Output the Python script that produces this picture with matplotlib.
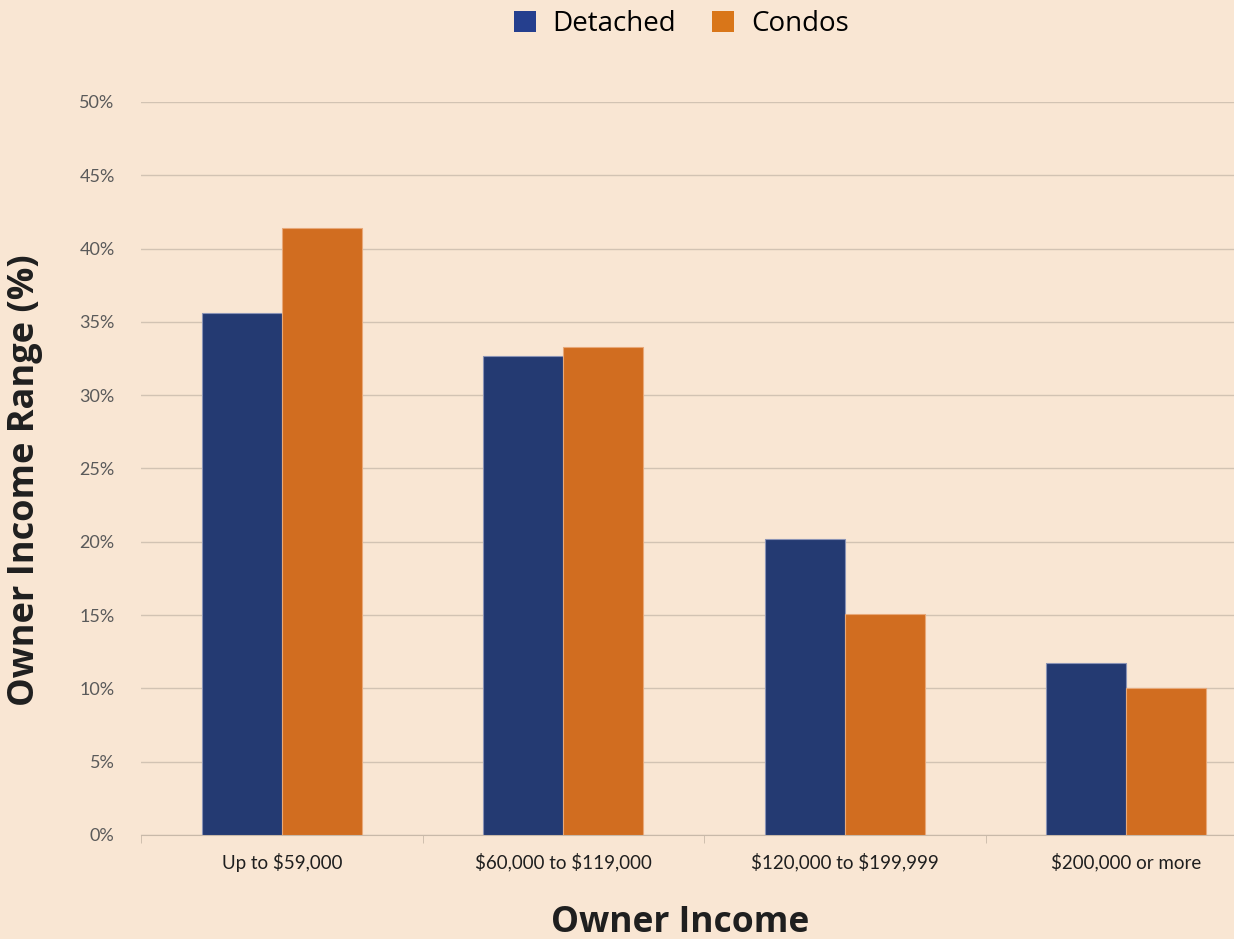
import matplotlib.pyplot as plt
import numpy as np
from matplotlib.patches import Patch

plt.rcParams['text.parse_math'] = False

# Share of owners in each income bracket, by home type
income_ranges = ['Up to $59,000', '$60,000 to $119,000', '$120,000 to $199,999', '$200,000 or more']
detached = [35.6, 32.7, 20.2, 11.7]
condos = [41.4, 33.3, 15.1, 10.0]
y_ticks = [0, 5, 10, 15, 20, 25, 30, 35, 40, 45, 50]

BG = '#F9E6D3'
NAVY = '#243A72'
ORANGE = '#D16D20'


def main():
    fig = plt.figure(figsize=(12.34, 9.39), dpi=100, facecolor=BG)
    # right edge of the plot area runs past the figure, as in the printed chart
    ax = fig.add_axes([0.1143, 0.1108, 0.9125, 0.7806], facecolor=BG)

    x = np.arange(len(income_ranges))
    w = 0.284
    ax.bar(x - w / 2, detached, width=w, color=NAVY, edgecolor='#8A93B5', linewidth=0.8, zorder=3)
    ax.bar(x + w / 2, condos, width=w, color=ORANGE, edgecolor='#E8A878', linewidth=0.8, zorder=3)

    ax.set_xlim(-0.5, len(income_ranges) - 0.5)
    ax.set_ylim(0, 50)
    ax.set_yticks(y_ticks)
    ax.set_yticklabels([f'{t}%' for t in y_ticks])
    ax.yaxis.grid(True, color='#D2C3B3', linewidth=1.0, zorder=0)
    ax.tick_params(axis='y', length=0, pad=19, labelsize=13, labelcolor='#5A5A5A')

    # category labels centred, tick marks on the group boundaries
    ax.set_xticks(x)
    ax.set_xticklabels(income_ranges, fontsize=13.5, color='#1F1F1F', family='Lato')
    ax.tick_params(axis='x', length=0, pad=13)
    ax.set_xticks(np.arange(len(income_ranges) + 1) - 0.5, minor=True)
    ax.tick_params(axis='x', which='minor', length=6, color='#C8B9A9', direction='out')

    for s in ['top', 'right', 'left']:
        ax.spines[s].set_visible(False)
    ax.spines['bottom'].set_color('#C8B9A9')
    for lbl in ax.get_yticklabels():
        lbl.set_family('Lato')

    fig.text(0.551, -0.002, 'Owner Income', ha='center', va='bottom',
             fontsize=25.5, fontweight='bold', family='Open Sans', color='#1F1F1F')
    fig.text(0.0205, 0.489, 'Owner Income Range (%)', ha='center', va='center', rotation=90,
             fontsize=26, fontweight='bold', family='Open Sans', color='#1F1F1F')

    handles = [Patch(facecolor='#253F8E', label='Detached'),
               Patch(facecolor='#D97619', label='Condos')]
    fig.legend(handles=handles, loc='center', bbox_to_anchor=(0.552, 0.974), ncol=2,
               frameon=False, handlelength=0.8, handleheight=0.8, handletextpad=0.6,
               columnspacing=1.3, prop={'family': 'Open Sans', 'size': 20})

    fig.savefig('out.png', facecolor=BG)


if __name__ == '__main__':
    main()
